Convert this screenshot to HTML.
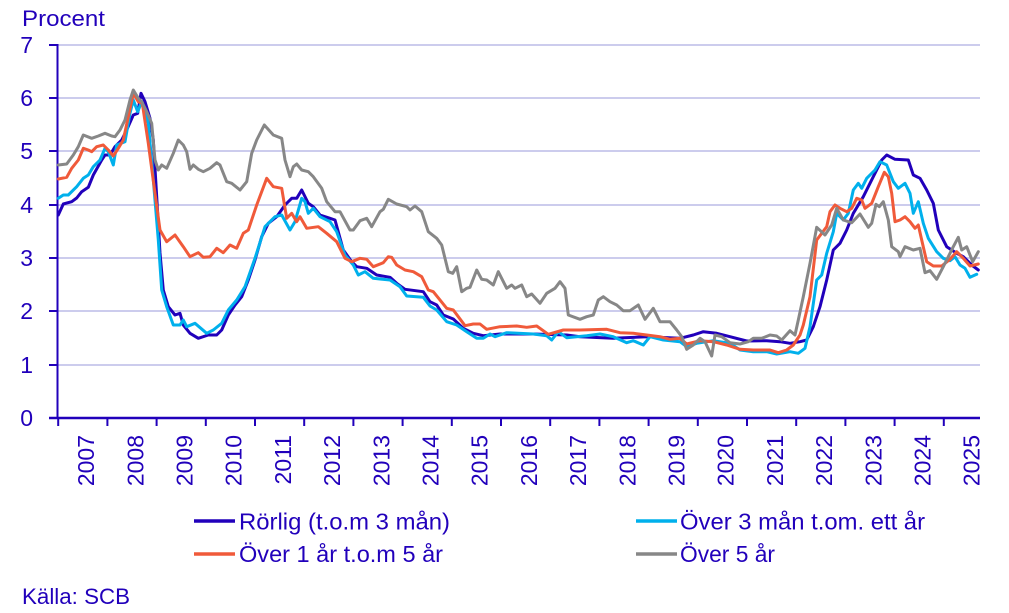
<!DOCTYPE html>
<html><head><meta charset="utf-8"><style>
html,body{margin:0;padding:0;background:#fff;}
svg{display:block;font-family:"Liberation Sans",Arial,sans-serif;}
</style></head><body>
<svg width="1009" height="613" viewBox="0 0 1009 613" xmlns="http://www.w3.org/2000/svg">
<rect width="1009" height="613" fill="#fff"/>
<g stroke="#cccced" stroke-width="2">
<line x1="58" y1="45" x2="980" y2="45"/>
<line x1="58" y1="98" x2="980" y2="98"/>
<line x1="58" y1="151" x2="980" y2="151"/>
<line x1="58" y1="205" x2="980" y2="205"/>
<line x1="58" y1="258" x2="980" y2="258"/>
<line x1="58" y1="311" x2="980" y2="311"/>
<line x1="58" y1="365" x2="980" y2="365"/>
</g>
<text x="22" y="26" font-size="22.5" fill="#2100bb" textLength="83" lengthAdjust="spacingAndGlyphs">Procent</text>
<g font-size="23" fill="#2100bb" text-anchor="end">
<text x="33" y="53">7</text>
<text x="33" y="106">6</text>
<text x="33" y="159">5</text>
<text x="33" y="213">4</text>
<text x="33" y="266">3</text>
<text x="33" y="319">2</text>
<text x="33" y="373">1</text>
<text x="33" y="426">0</text>
</g>
<g stroke="#2100bb" stroke-width="2">
<line x1="57.5" y1="44" x2="57.5" y2="419"/>
<line x1="49" y1="45" x2="58" y2="45"/>
<line x1="49" y1="98" x2="58" y2="98"/>
<line x1="49" y1="151" x2="58" y2="151"/>
<line x1="49" y1="205" x2="58" y2="205"/>
<line x1="49" y1="258" x2="58" y2="258"/>
<line x1="49" y1="311" x2="58" y2="311"/>
<line x1="49" y1="365" x2="58" y2="365"/>
<line x1="49" y1="418" x2="58" y2="418"/>
<line x1="49" y1="418" x2="980" y2="418" stroke-width="2.5"/>
<path d="M58.2 418v8M107.4 418v8M156.6 418v8M205.8 418v8M255 418v8M304.2 418v8M353.4 418v8M402.6 418v8M451.8 418v8M501 418v8M550.2 418v8M599.4 418v8M648.6 418v8M697.8 418v8M747 418v8M796.2 418v8M845.4 418v8M894.6 418v8M943.8 418v8"/>
</g>
<g font-size="23" fill="#2100bb" text-anchor="end">
<text transform="translate(94,435) rotate(-90)">2007</text>
<text transform="translate(143.3,435) rotate(-90)">2008</text>
<text transform="translate(192.5,435) rotate(-90)">2009</text>
<text transform="translate(241.7,435) rotate(-90)">2010</text>
<text transform="translate(290.9,435) rotate(-90)">2011</text>
<text transform="translate(340.1,435) rotate(-90)">2012</text>
<text transform="translate(389.3,435) rotate(-90)">2013</text>
<text transform="translate(438.5,435) rotate(-90)">2014</text>
<text transform="translate(487.7,435) rotate(-90)">2015</text>
<text transform="translate(536.9,435) rotate(-90)">2016</text>
<text transform="translate(586.1,435) rotate(-90)">2017</text>
<text transform="translate(635.3,435) rotate(-90)">2018</text>
<text transform="translate(684.5,435) rotate(-90)">2019</text>
<text transform="translate(733.7,435) rotate(-90)">2020</text>
<text transform="translate(782.9,435) rotate(-90)">2021</text>
<text transform="translate(832.1,435) rotate(-90)">2022</text>
<text transform="translate(881.3,435) rotate(-90)">2023</text>
<text transform="translate(930.5,435) rotate(-90)">2024</text>
<text transform="translate(979.7,435) rotate(-90)">2025</text>
</g>
<g fill="none" stroke-width="3" stroke-linejoin="round" stroke-linecap="round">
<polyline stroke="#2100bb" points="58.3,215 63.3,204 71.7,201.7 76.7,198 81.7,191.7 88.3,187.3 93.3,175 101.7,160 105,155 110,155 115,146.7 121.7,140 126.7,130 133.3,115 137.7,113.3 141,93.3 145,101.7 150,118.3 153.3,140 156.7,196.7 160,253 163.3,290 168.3,306.7 175,315 180,313.3 183.3,325 190,333.3 198.3,338.3 208.3,335 216.7,335 221.7,330 228.3,315 235,305 241.7,296.7 248.3,280 255,260 261.7,236.7 268.3,223.3 276.7,216.7 285,205 291.7,198.3 296.7,198.3 301.7,190 308.3,203.3 313.3,206.7 320,215 330,218.3 335,220 343.3,250 351.7,261.7 356.7,266.7 366.7,268.3 376.7,275 390,277.3 396.7,283.3 405,289.3 423.3,291.7 430,301.7 436.7,305 443.3,315 453.3,319 463.3,328.3 473.3,333.3 483.3,335.7 500,334 533.3,334 566.7,335 580,336.7 613.3,338.3 646.7,336.7 680,338.3 693.3,335 703.3,331.7 716.7,333.3 730,336.7 746.7,341 766.7,340.7 780,341.7 790,343.3 800,341.7 806.7,340 813.3,326.7 820,306.7 826.7,280 833.3,250 840,243.3 846.7,230 853.3,213.3 863.3,196.7 873.3,176.7 881.7,160 886.7,155 895,159.3 908.3,160 913.3,175 920,178.3 926.7,190 933.3,203.3 938.3,230 946.7,246.7 956.7,253.3 963.3,256.7 971.7,265 978.3,270"/>
<polyline stroke="#00b0ec" points="58.3,198.3 63.3,195 68.3,195 76.7,186.7 83.3,178.3 88.3,175 93.3,166.7 100,160 105,148.3 108.3,151.7 113.3,165 116.7,145 125,141.7 130,113.3 133.3,100 137.7,111.7 141.7,101.7 148.3,123.3 153.3,180 158.3,240 161.7,290 166.7,306.7 173.3,325 180,325 183.3,320 186.7,326.7 195,323.3 206.7,333.3 213.3,330 221.7,323.3 228.3,310 236.7,300 245,286.7 255,258.3 265,226.7 275,216.7 281.7,215 290,230 295,221.7 301.7,198.3 305,201.7 308.3,213.3 313.3,208.3 320,216.7 330,221.7 336.7,231.7 345,255 353.3,265 358.3,275 365,271.7 373.3,278.3 390,280 400,286.7 406.7,296 423.3,297.3 430,306 436.7,310 446.7,321.7 456.7,325 466.7,331.7 476.7,338.3 483.3,338.3 490,334 495,336.7 506.7,332.7 533.3,334 546.7,335.7 551.7,340 558.3,331.7 566.7,337.7 586.7,335.7 600,334 613.3,336.7 626.7,342.7 633.3,340.7 643.3,345 650,336.7 663.3,340 680,341.7 686.7,346.7 696.7,343.3 713.3,340.7 730,343.3 740,350 753.3,351.7 766.7,351.7 776.7,354 790,351.7 798.3,353.3 805,348.3 810,326.7 816.7,280 821.7,275 826.7,253.3 833.3,231.7 836.7,213.3 843.3,220 848.3,213.3 853.3,190 858.3,183.3 861.7,188.3 866.7,178.3 875,170 880,161.7 886.7,165 893.3,181.7 898.3,188.3 905,183.3 910,193.3 913.3,213.3 918.3,201.7 923.3,223.3 928.3,238.3 936.7,251.7 943.3,258.3 950,260.7 955,256.7 960,265 965,268.3 970,277.3 976.7,274.3"/>
<polyline stroke="#f05a3a" points="58.3,179 66.7,177.3 71.7,168.3 78.3,160 83.3,148.3 88.3,150 91.7,151.7 96.7,146.7 103.3,145 108.3,150 113.3,156 118.3,148.3 123.3,140 128.3,116.7 133.3,93.3 138.3,101.7 142.3,103.3 148.3,143.3 155,193.3 160,230 166.7,241.7 175,235 183.3,246.7 190,256.7 198.3,252.7 203.3,257.3 210,256.7 216.7,248.3 223.3,252.7 230,245 236.7,248.3 243.3,233.3 248.3,230 256.7,205 266.7,178.3 273.3,186.7 281.7,188.3 286.7,218.3 291.7,213.3 296.7,221.7 300,216.7 306.7,228.3 318.3,226.7 326.7,233.3 336.7,241.7 345,258.3 351.7,261.7 360,258.3 366.7,259.3 373.3,266.7 383.3,262.7 388.3,256.7 391.7,257.3 396.7,265 405,270 413.3,271.7 421.7,276.7 428.3,290 433.3,291.7 446.7,308.3 453.3,310 458.3,316.7 465,325.7 473.3,324 480,324 486.7,329.3 500,326.7 516.7,326 526.7,327.3 536.7,326 548.3,334.3 563.3,330 580,330 606.7,329.3 620,332.7 633.3,333.3 646.7,335 660,336.7 670,339.3 680,338.3 686.7,344 700,340.7 713.3,341.7 726.7,345 740,349.3 753.3,350 770,350 778.3,352.7 786.7,350 793.3,345 800,335 803.3,325 810,296.7 816.7,240 821.7,233.3 826.7,226.7 830,211.7 835,205 840,208.3 846.7,211.7 851.7,208.3 856.7,198.3 861.7,200 865,208.3 871.7,203.3 878.3,186.7 884.3,172.3 888.3,176.7 891.7,193.3 895,221.7 900,220 905,216.7 910,221.7 915,228.3 918.3,225 921.7,240 926.7,261.7 933.3,266 941.7,266 950,259.3 956.7,251.7 963.3,258.3 970,266 978.3,264"/>
<polyline stroke="#878787" points="58.3,165 66.7,164 73.3,155 78.3,146.7 83.3,135 91.7,138.3 98.3,136 105,133.3 111.7,136 115,136.7 120,130 125,120 130,100 133.3,90 138.3,98.3 141.7,101.7 146.7,111.7 151.7,123.3 155,160 158.3,170 161.7,165 166.7,168.3 173.3,153.3 178.3,140 183.3,145 186.7,151.7 190,169.3 193.3,165 198.3,169.3 203.3,171.7 210,168.3 216.7,162.7 220,165 226.7,181.7 231.7,183.3 240,190 246.7,181.7 251.7,153.3 256.7,140 264.3,125 273.3,135 281.7,138.3 285,160 290,176.7 293.3,166.7 296.7,164 301.7,170 308.3,171.7 313.3,176.7 321.7,188.3 326.7,201.7 335,211.7 340,211.7 350,230 353.3,230 360,220.7 366.7,218.3 371.7,226.7 380,211.7 383.3,209.3 388.3,199.3 396.7,204 406.7,206.7 410,210 415,206 421.7,211.7 428.3,231.7 436.7,238.3 441.7,245 448.3,271.7 452.7,273.3 456.7,266.7 461.7,291.7 466.7,288.3 470,287.3 476.7,270 481.7,279.3 486.7,280 493.3,285 498.3,271.7 506.7,288.3 511.7,285 515,288.3 521.7,285 526.7,296.7 531.7,294 540,303.3 546.7,293.3 555,288.3 560,281.7 565,288.3 568.3,315 580,319.3 586.7,316.7 593.3,315 598.3,300 603.3,296.7 610,301.7 616.7,305 623.3,310.7 630,310.7 638.3,305 645,319.3 653.3,308.3 660,321.7 670,321.7 676.7,330 681.7,336.7 686.7,349.3 693.3,345 700,338.3 705,341.7 711.7,356 715,335 721.7,336.7 730,342.7 740,344 748.3,341.7 753.3,338.3 761.7,338.3 770,335 776.7,336 781.7,340 790,330.7 795,335 798.3,320 803.3,296.7 810,263.3 816.7,227.3 825,235 831.7,225 836.7,208.3 843.3,220 851.7,222.7 860,214 868.3,227.3 871.7,223.3 876,204.3 879.3,206.7 883.3,201.7 888.3,220 891.7,246.7 898.3,251.7 900,256.7 905,246.7 913.3,250 920,248.3 925,272.7 930,270.7 936.7,279.3 943.3,266.7 953.3,246.7 958.3,237.3 961.7,250 966.7,246.7 972.7,261.7 978.3,251.7"/>
</g>
<g stroke-width="3.5">
<line x1="194" y1="521" x2="235" y2="521" stroke="#2100bb"/>
<line x1="194" y1="554" x2="235" y2="554" stroke="#f05a3a"/>
<line x1="636" y1="521" x2="677" y2="521" stroke="#00b0ec"/>
<line x1="636" y1="554" x2="677" y2="554" stroke="#878787"/>
</g>
<g font-size="23.5" fill="#2100bb">
<text x="239" y="529.5" textLength="211" lengthAdjust="spacingAndGlyphs">Rörlig (t.o.m 3 mån)</text>
<text x="239" y="562" textLength="204" lengthAdjust="spacingAndGlyphs">Över 1 år t.o.m 5 år</text>
<text x="680" y="529.5" textLength="245" lengthAdjust="spacingAndGlyphs">Över 3 mån t.om. ett år</text>
<text x="680" y="562" textLength="95" lengthAdjust="spacingAndGlyphs">Över 5 år</text>
</g>
<text x="22" y="604" font-size="22" fill="#2100bb" textLength="108" lengthAdjust="spacingAndGlyphs">Källa: SCB</text>
</svg>
</body></html>
